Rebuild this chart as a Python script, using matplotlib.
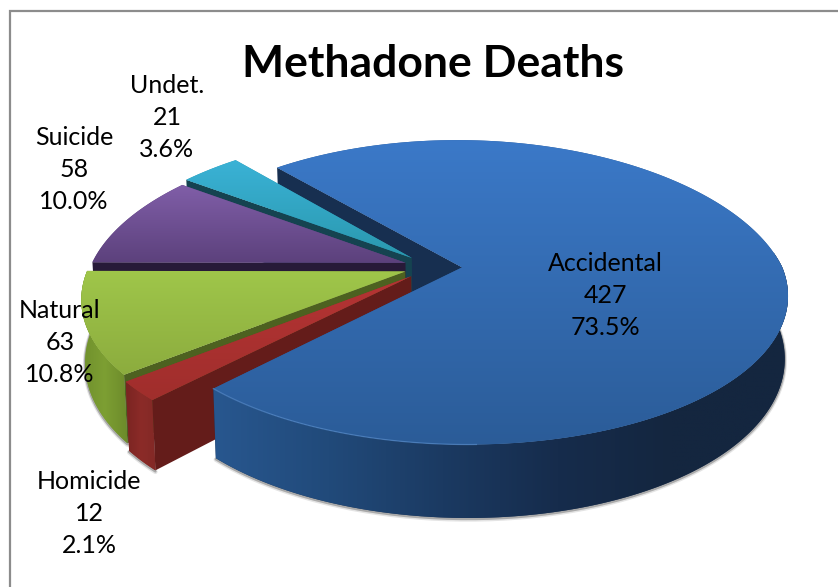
import numpy as np
import matplotlib
matplotlib.use('Agg')
import matplotlib.pyplot as plt
from matplotlib.colors import LinearSegmentedColormap
from matplotlib.patches import Polygon

categories = ['Accidental', 'Homicide', 'Natural', 'Suicide', 'Undet.']
counts = [427, 12, 63, 58, 21]
percents = ['73.5%', '2.1%', '10.8%', '10.0%', '3.6%']
chart_title = 'Methadone Deaths'

# label centres in pixels, same order as categories
label_x = [605, 89, 60, 74, 167]
label_y = [295.5, 513.5, 342.5, 169.5, 117.5]
# radius of each slice relative to the big one
slice_r = [1.0, 1.0, 0.99, 0.985, 1.0]

# pie geometry (image pixels), worked out from the picture
CX, CY = 433.0, 267.0
RX, RY = 320.0, 148.0
PERSP = 0.164
PERSP_X_BACK, PERSP_X_FRONT = 0.205, 0.172
EXPLODE = 0.091
START = 130.8
FLOOR_X, FLOOR_SX, FLOOR_DY, FLOOR_SY = 462.0, 0.99, 328.0, 1.07


def project(theta, mid, r=1.0):
    # theta in degrees, counter clockwise, point on a tilted disc seen in perspective
    t = np.radians(theta)
    m = np.radians(mid)
    u = EXPLODE*np.cos(m) + r*np.cos(t)
    v = -EXPLODE*np.sin(m) - r*np.sin(t)
    wx = 1 - np.where(v < 0, PERSP_X_BACK, PERSP_X_FRONT)*v
    return CX + RX*u/wx, CY + RY*v/(1 - PERSP*v)


def floor(x, y):
    return FLOOR_X + FLOOR_SX*(x - FLOOR_X), FLOOR_DY + FLOOR_SY*(y - CY)


def grad_fill(ax, xs, ys, colours, horizontal, z):
    verts = np.column_stack([xs, ys])
    patch = Polygon(verts, closed=True, facecolor=colours[len(colours)//2], edgecolor='none', zorder=z)
    ax.add_patch(patch)
    cmap = LinearSegmentedColormap.from_list('g', colours)
    ramp = np.linspace(0, 1, 256)
    img = ramp.reshape(1, -1) if horizontal else ramp.reshape(-1, 1)
    im = ax.imshow(img, cmap=cmap, vmin=0, vmax=1, aspect='auto', interpolation='bilinear', origin='upper',
                   extent=(xs.min(), xs.max(), ys.max(), ys.min()), zorder=z)
    im.set_clip_path(patch)


def top_face(ax, a0, a1, mid, r, colours, z):
    t = np.linspace(a0, a1, 200)
    x, y = project(t, mid, r)
    ax0, ay0 = project(mid, mid, 0.0)
    grad_fill(ax, np.r_[ax0, x], np.r_[ay0, y], colours, False, z)


def rim(ax, a0, a1, mid, r, colours, z):
    t = np.linspace(a0, a1, 200)
    x, y = project(t, mid, r)
    fx, fy = floor(x, y)
    # soft shadow under the edge
    ax.plot(fx, fy + 1.5, color='#404040', lw=3.2, alpha=0.14, zorder=1, solid_capstyle='round')
    ax.plot(fx, fy + 1.0, color='#404040', lw=1.8, alpha=0.35, zorder=1, solid_capstyle='round')
    grad_fill(ax, np.r_[x, fx[::-1]], np.r_[y, fy[::-1]], colours, True, z)


def cut_wall(ax, a, mid, r, colour, z):
    x, y = project(a, mid, r)
    x0, y0 = project(mid, mid, 0.0)
    fx, fy = floor(x, y)
    fx0, fy0 = floor(x0, y0)
    ax.add_patch(Polygon([(x, y), (x0, y0), (fx0, fy0), (fx, fy)], closed=True, facecolor=colour,
                         edgecolor='none', zorder=z))


def main():
    fig = plt.figure(figsize=(8.38, 5.87), dpi=100)
    ax = fig.add_axes([0, 0, 1, 1])

    plt.rcParams['font.family'] = ['Lato', 'DejaVu Sans']

    total = float(sum(counts))
    edges = START - np.r_[0, np.cumsum(counts)]/total*360.0
    mids = (edges[:-1] + edges[1:])/2.0

    # back wall of the big slice goes behind the small ones
    cut_wall(ax, edges[0], mids[0], slice_r[0], '#172f50', 2)

    # Undet.
    cut_wall(ax, edges[4], mids[4], slice_r[4], '#154350', 3)
    top_face(ax, edges[4], edges[5], mids[4], slice_r[4], ['#3ab2d6', '#2a98ae'], 4)
    # Suicide
    cut_wall(ax, edges[3], mids[3], slice_r[3], '#271a38', 5)
    top_face(ax, edges[3], edges[4], mids[3], slice_r[3], ['#805ea8', '#5c417c'], 6)
    # Natural
    rim(ax, edges[2], edges[3], mids[2], slice_r[2], ['#6f8f2c', '#7d9f33', '#6c8a2a'], 7)
    cut_wall(ax, edges[2], mids[2], slice_r[2], '#4d6120', 8)
    top_face(ax, edges[2], edges[3], mids[2], slice_r[2], ['#9fc64a', '#8cac3e'], 9)
    # Homicide
    rim(ax, edges[1], edges[2], mids[1], slice_r[1], ['#7a2422', '#8b2b28', '#832926'], 10)
    cut_wall(ax, edges[1], mids[1], slice_r[1], '#641c1a', 11)
    top_face(ax, edges[1], edges[2], mids[1], slice_r[1], ['#b53434', '#a02e2c'], 12)
    # Accidental, drawn last since it sits in front of the rest
    rim(ax, edges[1], edges[0] - 125, mids[0], slice_r[0],
        ['#28578f', '#214a7a', '#1b3a62', '#162c4c', '#14263f', '#14263f'], 13)
    top_face(ax, edges[0], edges[1], mids[0], slice_r[0], ['#3b79c8', '#2b5c98'], 14)
    t = np.linspace(edges[1], edges[1] + 45, 80)
    hx, hy = project(t, mids[0], slice_r[0])
    ax.plot(hx, hy, color='#5a90d0', lw=0.9, alpha=0.6, zorder=15)

    # chart frame, open on the right and bottom
    ax.plot([10, 10, 838], [587, 11, 11], color='#8c8c8c', lw=1.6, zorder=16, solid_joinstyle='miter')

    for name, n, pct, lx, ly in zip(categories, counts, percents, label_x, label_y):
        ax.text(lx, ly, '%s\n%d\n%s' % (name, n, pct), ha='center', va='center', fontsize=18,
                color='black', linespacing=1.49, zorder=20)
    ax.text(433, 64, chart_title, ha='center', va='center', fontsize=32, fontweight='bold',
            color='black', zorder=20)

    ax.set_xlim(0, 838)
    ax.set_ylim(587, 0)
    ax.axis('off')
    fig.savefig('out.png', dpi=100, facecolor='white')


###################################################################
if __name__ == '__main__':
    main()
